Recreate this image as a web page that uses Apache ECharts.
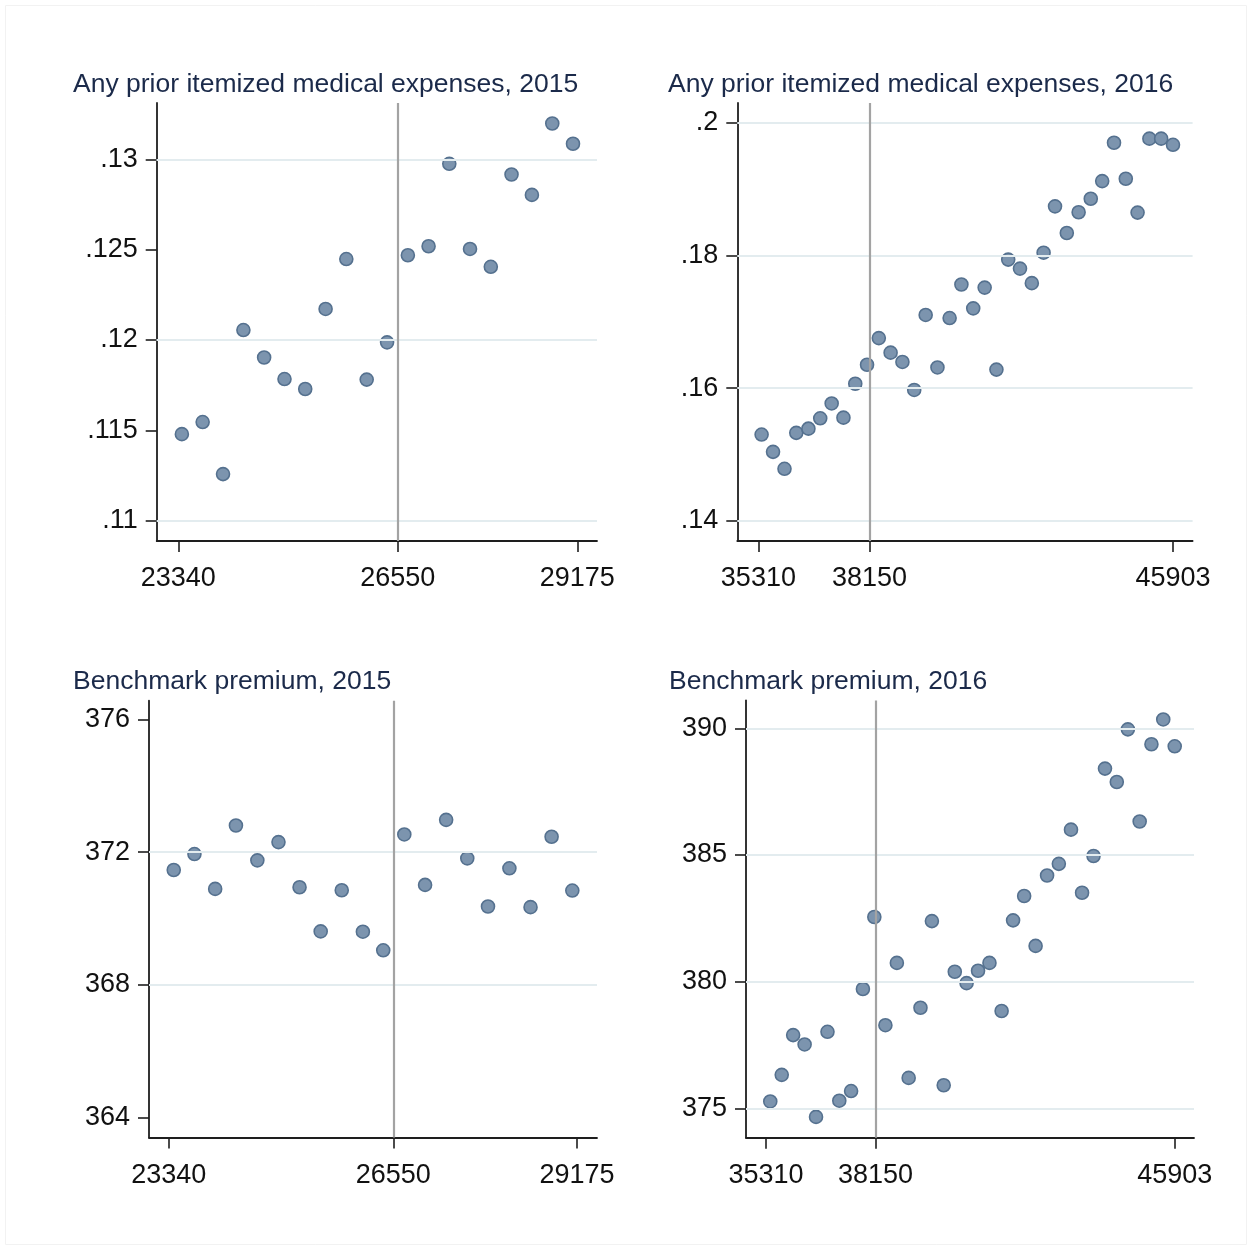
<!DOCTYPE html>
<html>
<head>
<meta charset="utf-8">
<script src="https://cdn.jsdelivr.net/npm/echarts@6/dist/echarts.min.js"></script>
<style>
html,body{margin:0;padding:0;background:#fff}
#c{width:1252px;height:1250px}
</style>
</head>
<body>
<div id="c"></div>
<script>
// ---------- Data ----------
const panelTitles = [
  'Any prior itemized medical expenses, 2015',
  'Any prior itemized medical expenses, 2016',
  'Benchmark premium, 2015',
  'Benchmark premium, 2016'
];

const xTicks2015 = [23340, 26550, 29175];
const xTicks2016 = [35310, 38150, 45903];
const cutoff2015 = 26550;
const cutoff2016 = 38150;

const yTicksMed2015 = [0.11, 0.115, 0.12, 0.125, 0.13];
const yTicksMed2016 = [0.14, 0.16, 0.18, 0.2];
const yTicksPrem2015 = [364, 368, 372, 376];
const yTicksPrem2016 = [375, 380, 385, 390];

const yGridMed2015 = [0.11, 0.115, 0.12, 0.125, 0.13];
const yGridMed2016 = [0.14, 0.16, 0.18, 0.2];
const yGridPrem2015 = [368, 372];
const yGridPrem2016 = [375, 380, 385, 390];

const medX2015 = [23392, 23696, 23994, 24292, 24595, 24893, 25196, 25494, 25797, 26095,
                  26393, 26697, 27000, 27303, 27606, 27910, 28213, 28511, 28809, 29112];
const medY2015 = [0.11479, 0.11546, 0.11258, 0.12055, 0.11903, 0.11784, 0.11729, 0.12172, 0.12448, 0.11781,
                  0.11987, 0.12469, 0.12519, 0.12975, 0.12504, 0.12405, 0.12916, 0.12803, 0.13198, 0.13086];

const medX2016 = [35392, 35684, 35977, 36278, 36588, 36890, 37182, 37483, 37785, 38086,
                  38387, 38688, 38990, 39291, 39584, 39885, 40196, 40497, 40799, 41091,
                  41392, 41693, 41994, 42296, 42597, 42889, 43190, 43492, 43802, 44094,
                  44396, 44697, 44998, 45300, 45601, 45903];
const medY2016 = [0.15302, 0.15042, 0.14786, 0.15328, 0.15391, 0.15547, 0.15771, 0.15557, 0.16068, 0.16354,
                  0.16755, 0.16536, 0.16396, 0.15974, 0.17104, 0.16313, 0.17057, 0.17563, 0.17203, 0.17516,
                  0.16281, 0.17938, 0.17802, 0.17583, 0.18042, 0.18740, 0.18339, 0.18651, 0.18854, 0.19120,
                  0.19698, 0.19156, 0.18646, 0.19760, 0.19760, 0.19667];

const premX2015 = [23412, 23708, 24004, 24301, 24607, 24909, 25210, 25512, 25813, 26115,
                   26406, 26707, 27004, 27305, 27607, 27903, 28209, 28511, 28812, 29108];
const premY2015 = [371.46, 371.94, 370.89, 372.80, 371.75, 372.30, 370.94, 369.61, 370.85, 369.60,
                   369.04, 372.53, 371.01, 372.97, 371.81, 370.36, 371.51, 370.34, 372.46, 370.84];

const premX2016 = [35421, 35718, 36014, 36311, 36607, 36904, 37210, 37516, 37822, 38118,
                   38405, 38702, 39008, 39314, 39610, 39916, 40203, 40509, 40806, 41102,
                   41417, 41714, 42001, 42298, 42595, 42900, 43215, 43502, 43799, 44096,
                   44402, 44689, 44995, 45300, 45606, 45903];
const premY2016 = [375.27, 376.32, 377.89, 377.52, 374.66, 378.02, 375.30, 375.68, 379.71, 382.55,
                   378.28, 380.74, 376.20, 378.97, 382.39, 375.91, 380.39, 379.94, 380.43, 380.74,
                   378.84, 382.42, 383.38, 381.41, 384.19, 384.65, 386.00, 383.51, 384.96, 388.41,
                   387.88, 389.96, 386.32, 389.37, 390.35, 389.29];

// ---------- Layout / style ----------
const FONT = '"Liberation Sans", Arial, sans-serif';
const AXIS_COLOR = '#1e1e1e';
const GRID_COLOR = '#e3ecef';
const CUT_COLOR = '#a3a3a3';
const MARK_FILL = '#7c94ae';
const MARK_EDGE = '#55718f';

const panels = [
  { title: panelTitles[0], titlePos: [73, 71],
    grid: { left: 156.7, top: 103, width: 440.3, height: 438 },
    xRange: [23024, 29463], yRange: [0.108877, 0.133116],
    xTicks: xTicks2015, yTicks: yTicksMed2015, yGrid: yGridMed2015, cut: cutoff2015,
    x: medX2015, y: medY2015, yfmt: 'dec' },
  { title: panelTitles[1], titlePos: [668, 71],
    grid: { left: 737.3, top: 103, width: 455.3, height: 438 },
    xRange: [34771, 46404], yRange: [0.136987, 0.202968],
    xTicks: xTicks2016, yTicks: yTicksMed2016, yGrid: yGridMed2016, cut: cutoff2016,
    x: medX2016, y: medY2016, yfmt: 'dec' },
  { title: panelTitles[2], titlePos: [73, 668],
    grid: { left: 149, top: 700.7, width: 448, height: 436.9 },
    xRange: [23058.5, 29460.8], yRange: [363.397, 376.560],
    xTicks: xTicks2015, yTicks: yTicksPrem2015, yGrid: yGridPrem2015, cut: cutoff2015,
    x: premX2015, y: premY2015, yfmt: 'int' },
  { title: panelTitles[3], titlePos: [669, 668],
    grid: { left: 746, top: 700.5, width: 448, height: 437.2 },
    xRange: [34792, 46403], yRange: [373.839, 391.098],
    xTicks: xTicks2016, yTicks: yTicksPrem2016, yGrid: yGridPrem2016, cut: cutoff2016,
    x: premX2016, y: premY2016, yfmt: 'int' }
];

function fmtDec(v) {
  return String(+Number(v).toFixed(4)).replace(/^0\./, '.');
}

const option = {
  animation: false,
  backgroundColor: '#ffffff',
  title: [], grid: [], xAxis: [], yAxis: [], series: [],
  graphic: [{
    type: 'rect', silent: true, z: -10,
    shape: { x: 5.5, y: 5.5, width: 1241, height: 1239 },
    style: { fill: 'none', stroke: '#f2f2f2', lineWidth: 1 }
  }]
};

panels.forEach((p, i) => {
  option.title.push({
    text: p.title, left: p.titlePos[0], top: p.titlePos[1], padding: 0,
    textStyle: { fontFamily: FONT, fontSize: 26.5, fontWeight: 'normal', color: '#1b2a4a' }
  });
  option.grid.push(Object.assign({ containLabel: false }, p.grid));
  option.xAxis.push({
    type: 'value', gridIndex: i, min: p.xRange[0], max: p.xRange[1],
    axisLine: { show: true, onZero: false, lineStyle: { color: AXIS_COLOR, width: 1.8 } },
    axisTick: { show: true, length: 11, customValues: p.xTicks, lineStyle: { color: AXIS_COLOR, width: 1.6 } },
    axisLabel: { show: true, customValues: p.xTicks, margin: 24, fontFamily: FONT, fontSize: 27, color: '#111',
                 formatter: v => String(Math.round(v)) },
    splitLine: { show: false }
  });
  option.yAxis.push({
    type: 'value', gridIndex: i, min: p.yRange[0], max: p.yRange[1],
    axisLine: { show: true, onZero: false, lineStyle: { color: AXIS_COLOR, width: 1.8 } },
    axisTick: { show: true, length: 11, customValues: p.yTicks, lineStyle: { color: AXIS_COLOR, width: 1.6 } },
    axisLabel: { show: true, customValues: p.yTicks, margin: 19, fontFamily: FONT, fontSize: 27, color: '#111',
                 formatter: v => p.yfmt === 'dec' ? fmtDec(v) : String(Math.round(v)) },
    splitLine: { show: false }
  });
  // reference lines: horizontal grid lines + vertical cutoff line (drawn under markers)
  option.series.push({
    type: 'scatter', xAxisIndex: i, yAxisIndex: i, data: [], z: 1, silent: true,
    markLine: {
      silent: true, symbol: ['none', 'none'], label: { show: false }, animation: false,
      data: p.yGrid.map(v => ({ yAxis: v, lineStyle: { color: GRID_COLOR, width: 2, type: 'solid' } }))
        .concat([{ xAxis: p.cut, lineStyle: { color: CUT_COLOR, width: 2.2, type: 'solid' } }])
    }
  });
  option.series.push({
    type: 'scatter', xAxisIndex: i, yAxisIndex: i, z: 3,
    symbol: 'circle', symbolSize: 13,
    itemStyle: { color: MARK_FILL, borderColor: MARK_EDGE, borderWidth: 1.6, opacity: 1 },
    data: p.x.map((xv, k) => [xv, p.y[k]])
  });
});

const chart = echarts.init(document.getElementById('c'), null, { renderer: 'canvas' });
chart.setOption(option);
</script>
</body>
</html>
